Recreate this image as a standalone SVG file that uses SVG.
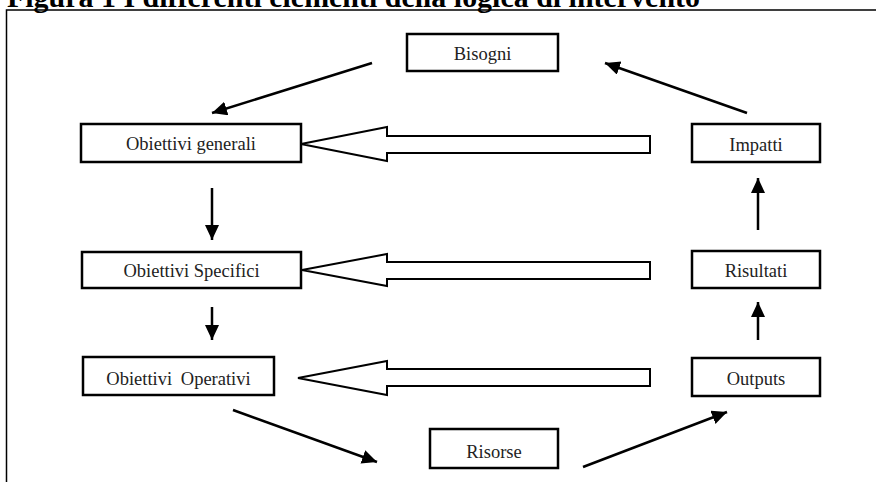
<svg xmlns="http://www.w3.org/2000/svg" width="876" height="482" viewBox="0 0 876 482">
<style>
.box{fill:#fff;stroke:#000;stroke-width:2.5}
.lbl{font-family:"Liberation Serif","Times New Roman",serif;font-size:18.5px;fill:#222;text-anchor:middle}
.arr{stroke:#000;stroke-width:2.5;fill:none;marker-end:url(#head)}
.hollow{fill:#fff;stroke:#000;stroke-width:2;stroke-linejoin:miter}
.frame{stroke:#000;stroke-width:1.5;fill:none}
</style>
<defs>
<marker id="head" markerUnits="userSpaceOnUse" markerWidth="16" markerHeight="16" refX="15" refY="7" orient="auto">
<path d="M0,0 L15,7 L0,14 z" fill="#000"/>
</marker>
</defs>
<rect x="0" y="0" width="876" height="482" fill="#fff"/>
<text x="7" y="7" font-family="Liberation Serif,'Times New Roman',serif" font-weight="bold" font-size="29" textLength="693" lengthAdjust="spacingAndGlyphs">Figura 1 I differenti elementi della logica di intervento</text>
<path class="frame" d="M6.5,482 L6.5,10 L876,10"/>

<g id="connectors">
<line class="arr" x1="372" y1="63" x2="212" y2="113"/>
<line class="arr" x1="747" y1="113" x2="605" y2="63"/>
<line class="arr" x1="212" y1="188" x2="212" y2="240"/>
<line class="arr" x1="212" y1="307" x2="212" y2="340"/>
<line class="arr" x1="233" y1="410" x2="377" y2="462"/>
<line class="arr" x1="583" y1="467" x2="727" y2="412"/>
<line class="arr" x1="758" y1="340" x2="758" y2="302"/>
<line class="arr" x1="758" y1="230" x2="758" y2="178"/>
<polygon class="hollow" points="301,144 387,127 387,136 650,136 650,153 387,153 387,161"/>
<polygon class="hollow" points="302,270 387,254 387,262 650,262 650,279 387,279 387,286"/>
<polygon class="hollow" points="298,378 387,361 387,369 650,369 650,386 387,386 387,395"/>
</g>

<g id="bisogni">
<rect class="box" x="407" y="34" width="151" height="37"/>
<text class="lbl" x="482.5" y="60">Bisogni</text>
</g>
<g id="obiettivi-generali">
<rect class="box" x="81" y="124" width="220" height="38"/>
<text class="lbl" x="191" y="150">Obiettivi generali</text>
</g>
<g id="obiettivi-specifici">
<rect class="box" x="82" y="252" width="219" height="36"/>
<text class="lbl" x="191.5" y="277">Obiettivi Specifici</text>
</g>
<g id="obiettivi-operativi">
<rect class="box" x="83" y="357" width="191" height="38"/>
<text class="lbl" x="178.5" y="385">Obiettivi <tspan dx="4">Operativi</tspan></text>
</g>
<g id="impatti">
<rect class="box" x="692" y="124" width="128" height="38"/>
<text class="lbl" x="756" y="151">Impatti</text>
</g>
<g id="risultati">
<rect class="box" x="692" y="251" width="128" height="37"/>
<text class="lbl" x="756" y="277">Risultati</text>
</g>
<g id="outputs">
<rect class="box" x="692" y="358" width="128" height="38"/>
<text class="lbl" x="756" y="385">Outputs</text>
</g>
<g id="risorse">
<rect class="box" x="430" y="429" width="128" height="39"/>
<text class="lbl" x="494" y="458">Risorse</text>
</g>
</svg>
